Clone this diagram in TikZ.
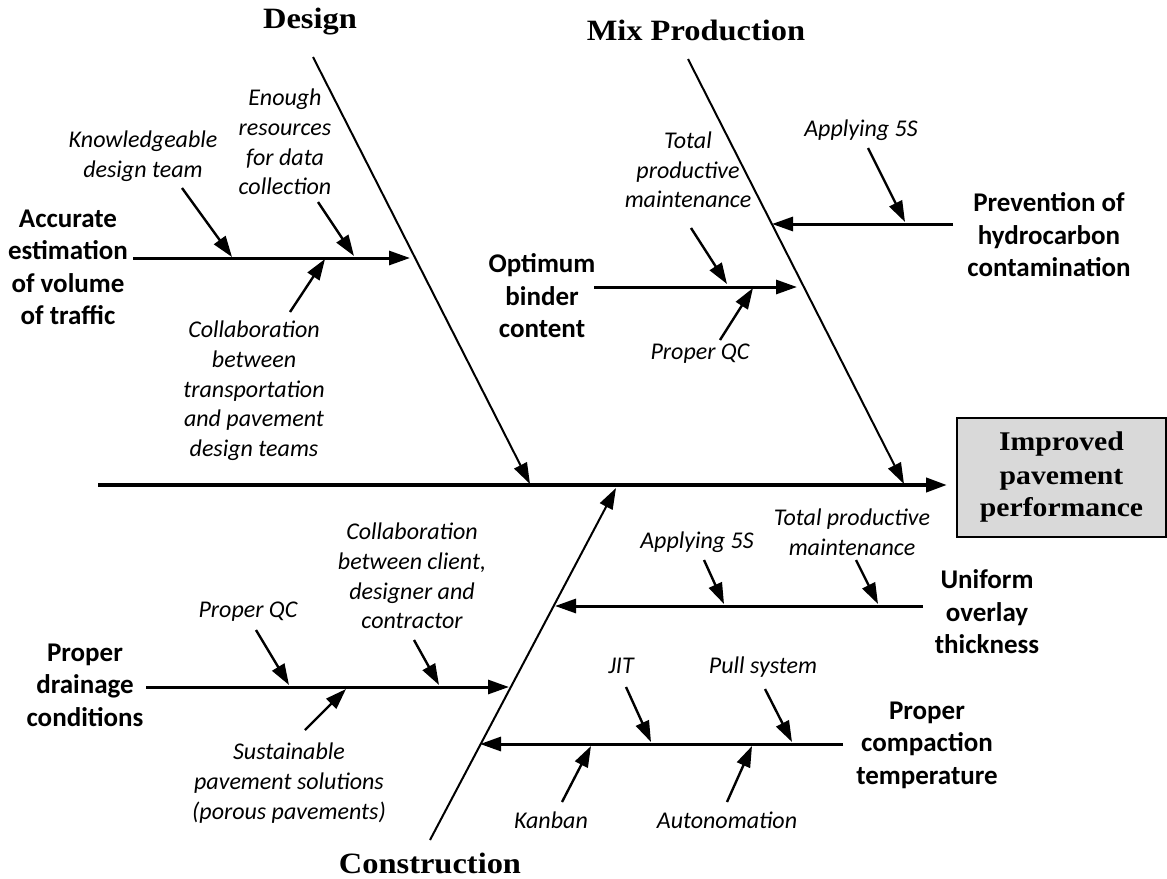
\documentclass[tikz,border=0pt]{standalone}
\usepackage{fontspec}
\setmainfont{Carlito}
\newfontfamily\titlefont{Liberation Serif}[FakeStretch=1.1]
\usetikzlibrary{arrows.meta}
\tikzset{
  tip/.style={-{Triangle[length=21pt,width=14pt]}},
  bone/.style={tip, line width=2pt},
  subbone/.style={tip, line width=3pt},
  spine/.style={tip, line width=4pt},
  small/.style={tip, line width=2.4pt},
  cause/.style={align=center, font=\fontsize{27}{32.5}\selectfont\bfseries, inner sep=0pt},
  sub/.style={align=center, font=\fontsize{24}{29.7}\selectfont\itshape, inner sep=0pt},
  ttl/.style={font=\titlefont\bfseries\fontsize{29.5}{33}\selectfont, inner sep=0pt},
  effect/.style={draw=black, line width=2pt, fill=black!15, minimum width=209pt, minimum height=119pt,
     align=center, font=\titlefont\bfseries\fontsize{27}{33}\selectfont, inner sep=0pt}
}
\begin{document}
\begin{tikzpicture}[x=1pt,y=-1pt]
\useasboundingbox (0,0) rectangle (1167,878);
% titles
\node[ttl] (tDesign) at (310,22) {Design};
\node[ttl] (tMix) at (696,30) {Mix Production};
\node[ttl] (tCons) at (430,863) {Construction};
% effect
\node[effect] (effect) at (1061.5,477.5) {Improved\\pavement\\performance};
% spine
\coordinate (spL) at (98,485);
\coordinate (spR) at (947,485);
\draw[spine] (spL) -- (spR);
% bones
\coordinate (dTop) at (313,57);  \coordinate (dBot) at (530,484);
\coordinate (mTop) at (688,59);  \coordinate (mBot) at (904,484);
\coordinate (cBot) at (430,840); \coordinate (cTop) at (616,488);
\draw[bone] (dTop) -- (dBot);
\draw[bone] (mTop) -- (mBot);
\draw[bone] (cBot) -- (cTop);
% cause labels
\node[cause] (accur) at (68,267.5) {Accurate\\estimation\\of volume\\of traffic};
\node[cause] (optim) at (542,296) {Optimum\\binder\\content};
\node[cause] (prev) at (1049,235) {Prevention of\\hydrocarbon\\contamination};
\node[cause] (drain) at (85,685) {Proper\\drainage\\conditions};
\node[cause] (unif) at (987,612) {Uniform\\overlay\\thickness};
\node[cause] (compa) at (927,745) {Proper\\compaction\\temperature};
% sub-bones
\coordinate (aS) at (133,258); \coordinate (aE) at (410,258);
\coordinate (oS) at (594,287); \coordinate (oE) at (797,287);
\coordinate (pS) at (953,224); \coordinate (pE) at (772,224);
\coordinate (drS) at (146,687); \coordinate (drE) at (509,687);
\coordinate (uS) at (923,606); \coordinate (uE) at (555,606);
\coordinate (cS) at (843,744); \coordinate (cE) at (480,744);
\draw[subbone] (aS) -- (aE);
\draw[subbone] (oS) -- (oE);
\draw[subbone] (pS) -- (pE);
\draw[subbone] (drS) -- (drE);
\draw[subbone] (uS) -- (uE);
\draw[subbone] (cS) -- (cE);
% sub labels
\node[sub] (know) at (143,156.5) {Knowledgeable\\design team};
\node[sub] (enough) at (285,142) {Enough\\resources\\for data\\collection};
\node[sub] (colT) at (254,391) {Collaboration\\between\\transportation\\and pavement\\design teams};
\node[sub] (tpmM) at (688,170) {Total\\productive\\maintenance};
\node[sub] (fiveM) at (861,130) {Applying 5S};
\node[sub] (qcM) at (700,354) {Proper QC};
\node[sub] (fiveC) at (697,542) {Applying 5S};
\node[sub] (tpmC) at (852,532.5) {Total productive\\maintenance};
\node[sub] (colC) at (412,576) {Collaboration\\between client,\\designer and\\contractor};
\node[sub] (qcC) at (248,612) {Proper QC};
\node[sub] (sust) at (289,783) {Sustainable\\pavement solutions\\(porous pavements)};
\node[sub] (jit) at (621,666) {JIT};
\node[sub] (pull) at (763,667) {Pull system};
\node[sub] (kanb) at (551,820) {Kanban};
\node[sub] (auton) at (727,820) {Autonomation};
% small arrows
\coordinate (k1) at (182,188); \coordinate (k2) at (232,257);
\coordinate (e1) at (318,202); \coordinate (e2) at (354,256);
\coordinate (ct1) at (290,312); \coordinate (ct2) at (325,259);
\coordinate (tm1) at (691,228); \coordinate (tm2) at (727,284);
\coordinate (qm1) at (720,340); \coordinate (qm2) at (753,288);
\coordinate (fm1) at (868,148); \coordinate (fm2) at (905,222);
\coordinate (fc1) at (704,560); \coordinate (fc2) at (724,604);
\coordinate (tc1) at (856,560); \coordinate (tc2) at (878,604);
\coordinate (qc1) at (256,630); \coordinate (qc2) at (289,685);
\coordinate (cc1) at (414,640); \coordinate (cc2) at (439,685);
\coordinate (su1) at (305,730); \coordinate (su2) at (346,689);
\coordinate (j1) at (626,687); \coordinate (j2) at (651,742);
\coordinate (pu1) at (765,689); \coordinate (pu2) at (792,742);
\coordinate (kb1) at (562,802); \coordinate (kb2) at (591,746);
\coordinate (au1) at (727,802); \coordinate (au2) at (752,746);
\foreach \a/\b in {k1/k2,e1/e2,ct1/ct2,tm1/tm2,qm1/qm2,fm1/fm2,fc1/fc2,tc1/tc2,qc1/qc2,cc1/cc2,su1/su2,j1/j2,pu1/pu2,kb1/kb2,au1/au2}
  \draw[small] (\a) -- (\b);
\end{tikzpicture}
\end{document}
